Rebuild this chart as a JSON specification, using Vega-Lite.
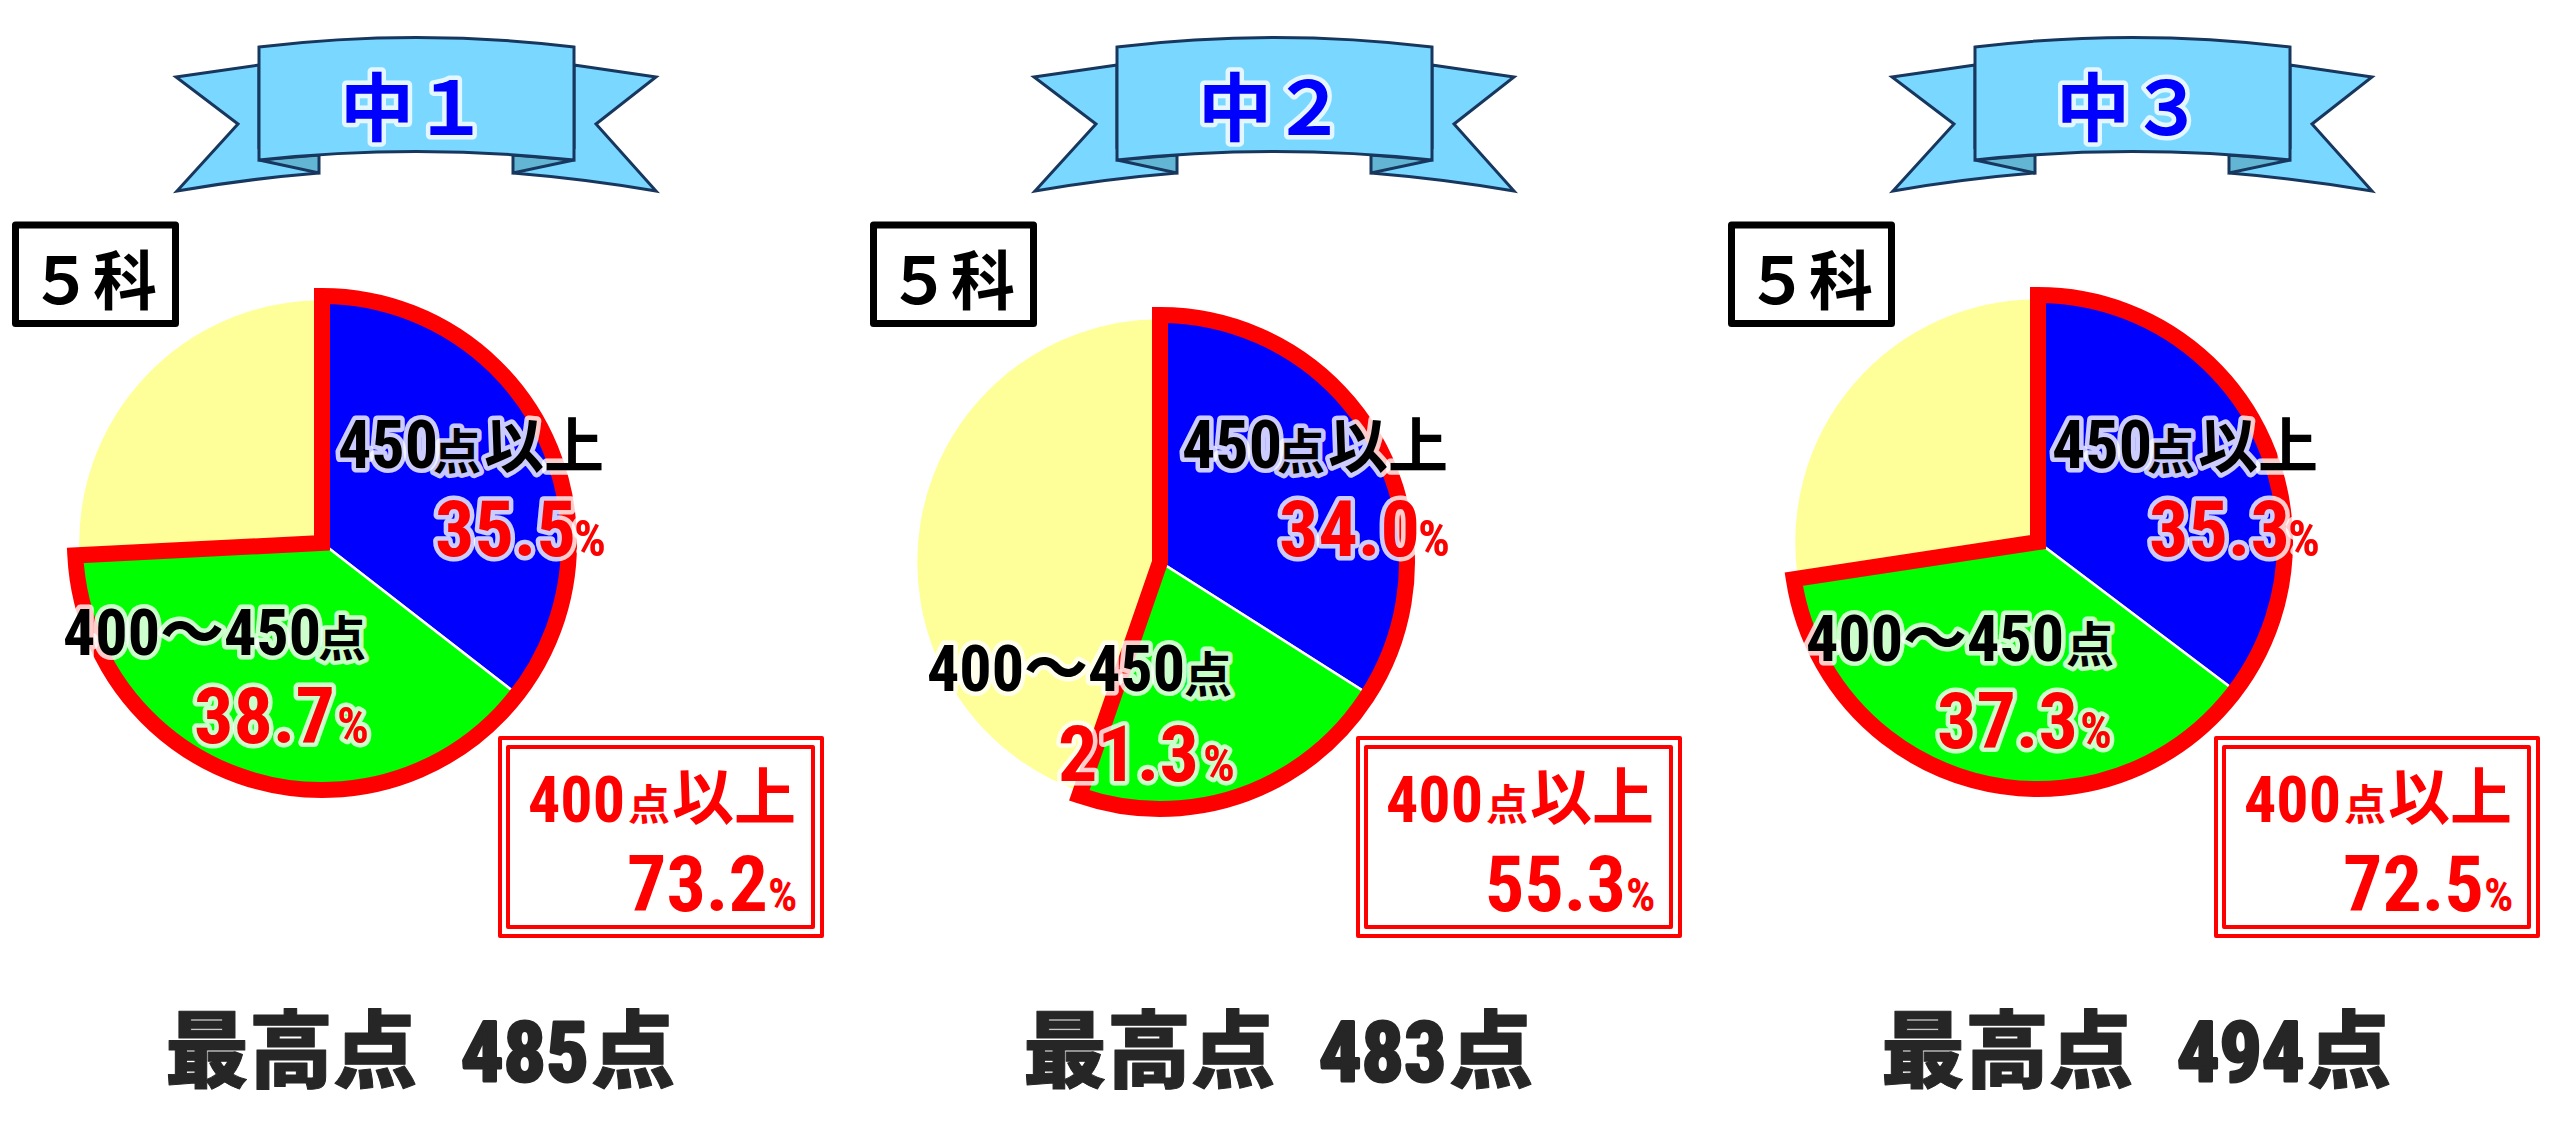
{
  "$schema": "https://vega.github.io/schema/vega-lite/v6.json",
  "width": 2560,
  "height": 1133,
  "autosize": {"type": "none"},
  "padding": 0,
  "background": "white",
  "config": {"view": {"stroke": null}},
  "params": [
    {"name": "grades", "value": ["中1", "中2", "中3"]},
    {"name": "pieX", "value": [-94, -114, -94]},
    {"name": "pieY", "value": [-60, -41, -61]},
    {"name": "textX", "value": {
      "title": [-76, -76, -76], "subject": [-387, -387, -387],
      "num450": [-78, -92, -80], "ten450": [17, 3, 15], "ijo450": [68, 54, 66],
      "pct450": [19, 5, 17], "sign450": [158, 144, 156],
      "num400": [-353, -347, -326], "ten400": [-98, -90, -66],
      "pct400": [-222, -216, -195], "sign400": [-79, -71, -52],
      "boxnum": [112, 112, 112], "boxten": [212, 212, 212], "boxijo": [256, 256, 256],
      "boxpct": [211, 211, 211], "boxsign": [352, 352, 352],
      "scoretitle": [-251, -251, -251], "scorenum": [45, 45, 45], "scoreten": [175, 175, 175]
    }},
    {"name": "textY", "value": {
      "title": [17, 17, 17], "subject": [-299, -299, -299],
      "num450": [-135, -135, -135], "ten450": [-134, -134, -134], "ijo450": [-135, -135, -135],
      "pct450": [-47, -47, -47], "sign450": [-47, -47, -47],
      "num400": [52, 88, 58], "ten400": [53, 89, 59],
      "pct400": [140, 178, 145], "sign400": [140, 178, 145],
      "boxnum": [219, 219, 219], "boxten": [217, 217, 217], "boxijo": [217, 217, 217],
      "boxpct": [308, 308, 308], "boxsign": [308, 308, 308],
      "scoretitle": [-7, -7, -7], "scorenum": [-7, -7, -7], "scoreten": [-7, -7, -7]
    }}
  ],
  "datasets": {
    "shares": [
      {"grade": "中1", "section": "pie", "band": "450点以上", "rank": 1, "share": 35.5},
      {"grade": "中1", "section": "pie", "band": "400〜450点", "rank": 2, "share": 38.7},
      {"grade": "中1", "section": "pie", "band": "400点未満", "rank": 3, "share": 25.8},
      {"grade": "中2", "section": "pie", "band": "450点以上", "rank": 1, "share": 34.0},
      {"grade": "中2", "section": "pie", "band": "400〜450点", "rank": 2, "share": 21.3},
      {"grade": "中2", "section": "pie", "band": "400点未満", "rank": 3, "share": 44.7},
      {"grade": "中3", "section": "pie", "band": "450点以上", "rank": 1, "share": 35.3},
      {"grade": "中3", "section": "pie", "band": "400〜450点", "rank": 2, "share": 37.3},
      {"grade": "中3", "section": "pie", "band": "400点未満", "rank": 3, "share": 27.4}
    ],
    "frames": [
      {"grade": "中1", "section": "title", "frame": "ribbon"},
      {"grade": "中2", "section": "title", "frame": "ribbon"},
      {"grade": "中3", "section": "title", "frame": "ribbon"},
      {"grade": "中1", "section": "pie", "frame": "box"},
      {"grade": "中2", "section": "pie", "frame": "box"},
      {"grade": "中3", "section": "pie", "frame": "box"}
    ],
    "labels": [
      {"grade": "中1", "section": "title", "part": "title", "text": "中１"},
      {"grade": "中1", "section": "pie", "part": "subject", "text": "５科"},
      {"grade": "中1", "section": "pie", "part": "num450", "text": "450"},
      {"grade": "中1", "section": "pie", "part": "ten450", "text": "点"},
      {"grade": "中1", "section": "pie", "part": "ijo450", "text": "以上"},
      {"grade": "中1", "section": "pie", "part": "pct450", "text": "35.5"},
      {"grade": "中1", "section": "pie", "part": "sign450", "text": "%"},
      {"grade": "中1", "section": "pie", "part": "num400", "text": "400〜450"},
      {"grade": "中1", "section": "pie", "part": "ten400", "text": "点"},
      {"grade": "中1", "section": "pie", "part": "pct400", "text": "38.7"},
      {"grade": "中1", "section": "pie", "part": "sign400", "text": "%"},
      {"grade": "中1", "section": "pie", "part": "boxnum", "text": "400"},
      {"grade": "中1", "section": "pie", "part": "boxten", "text": "点"},
      {"grade": "中1", "section": "pie", "part": "boxijo", "text": "以上"},
      {"grade": "中1", "section": "pie", "part": "boxpct", "text": "73.2"},
      {"grade": "中1", "section": "pie", "part": "boxsign", "text": "%"},
      {"grade": "中1", "section": "score", "part": "scoretitle", "text": "最高点"},
      {"grade": "中1", "section": "score", "part": "scorenum", "text": "485"},
      {"grade": "中1", "section": "score", "part": "scoreten", "text": "点"},
      {"grade": "中2", "section": "title", "part": "title", "text": "中２"},
      {"grade": "中2", "section": "pie", "part": "subject", "text": "５科"},
      {"grade": "中2", "section": "pie", "part": "num450", "text": "450"},
      {"grade": "中2", "section": "pie", "part": "ten450", "text": "点"},
      {"grade": "中2", "section": "pie", "part": "ijo450", "text": "以上"},
      {"grade": "中2", "section": "pie", "part": "pct450", "text": "34.0"},
      {"grade": "中2", "section": "pie", "part": "sign450", "text": "%"},
      {"grade": "中2", "section": "pie", "part": "num400", "text": "400〜450"},
      {"grade": "中2", "section": "pie", "part": "ten400", "text": "点"},
      {"grade": "中2", "section": "pie", "part": "pct400", "text": "21.3"},
      {"grade": "中2", "section": "pie", "part": "sign400", "text": "%"},
      {"grade": "中2", "section": "pie", "part": "boxnum", "text": "400"},
      {"grade": "中2", "section": "pie", "part": "boxten", "text": "点"},
      {"grade": "中2", "section": "pie", "part": "boxijo", "text": "以上"},
      {"grade": "中2", "section": "pie", "part": "boxpct", "text": "55.3"},
      {"grade": "中2", "section": "pie", "part": "boxsign", "text": "%"},
      {"grade": "中2", "section": "score", "part": "scoretitle", "text": "最高点"},
      {"grade": "中2", "section": "score", "part": "scorenum", "text": "483"},
      {"grade": "中2", "section": "score", "part": "scoreten", "text": "点"},
      {"grade": "中3", "section": "title", "part": "title", "text": "中３"},
      {"grade": "中3", "section": "pie", "part": "subject", "text": "５科"},
      {"grade": "中3", "section": "pie", "part": "num450", "text": "450"},
      {"grade": "中3", "section": "pie", "part": "ten450", "text": "点"},
      {"grade": "中3", "section": "pie", "part": "ijo450", "text": "以上"},
      {"grade": "中3", "section": "pie", "part": "pct450", "text": "35.3"},
      {"grade": "中3", "section": "pie", "part": "sign450", "text": "%"},
      {"grade": "中3", "section": "pie", "part": "num400", "text": "400〜450"},
      {"grade": "中3", "section": "pie", "part": "ten400", "text": "点"},
      {"grade": "中3", "section": "pie", "part": "pct400", "text": "37.3"},
      {"grade": "中3", "section": "pie", "part": "sign400", "text": "%"},
      {"grade": "中3", "section": "pie", "part": "boxnum", "text": "400"},
      {"grade": "中3", "section": "pie", "part": "boxten", "text": "点"},
      {"grade": "中3", "section": "pie", "part": "boxijo", "text": "以上"},
      {"grade": "中3", "section": "pie", "part": "boxpct", "text": "72.5"},
      {"grade": "中3", "section": "pie", "part": "boxsign", "text": "%"},
      {"grade": "中3", "section": "score", "part": "scoretitle", "text": "最高点"},
      {"grade": "中3", "section": "score", "part": "scorenum", "text": "494"},
      {"grade": "中3", "section": "score", "part": "scoreten", "text": "点"}
    ]
  },
  "encoding": {
    "x": {"field": "grade", "type": "nominal", "axis": null,
      "scale": {"type": "point", "domain": ["中1", "中2", "中3"], "range": [416, 2132], "padding": 0}},
    "y": {"field": "section", "type": "nominal", "axis": null,
      "scale": {"type": "point", "domain": ["title", "pie", "score"], "range": [118, 1088], "padding": 0}}
  },
  "layer": [
    {
      "data": {"name": "frames"},
      "transform": [{"filter": "datum.frame == 'ribbon'"}],
      "mark": {"type": "point", "size": 4, "opacity": 1, "filled": true, "fill": "#7ad7ff", "stroke": "#17375e", "strokeWidth": 3,
        "shape": "M-157,-53L-240,-41L-178,6L-239,73Q-170,61 -97,55L-157,30ZM158,-53L240,-41L180,6L240,73Q170,61 97,55L158,30Z"}
    },
    {
      "data": {"name": "frames"},
      "transform": [{"filter": "datum.frame == 'ribbon'"}],
      "mark": {"type": "point", "size": 4, "opacity": 1, "filled": true, "fill": "#62b6d3", "stroke": "#17375e", "strokeWidth": 3,
        "shape": "M-157,42L-97,37L-97,55ZM158,42L97,37L97,55Z"}
    },
    {
      "data": {"name": "frames"},
      "transform": [{"filter": "datum.frame == 'ribbon'"}],
      "mark": {"type": "point", "size": 4, "opacity": 1, "filled": true, "fill": "#7ad7ff", "stroke": "#17375e", "strokeWidth": 3,
        "shape": "M-157,-71Q0,-90 158,-71L158,42Q0,25 -157,42Z"}
    },
    {
      "data": {"name": "frames"},
      "transform": [{"filter": "datum.frame == 'box'"}],
      "mark": {"type": "point", "size": 4, "opacity": 1, "filled": false, "stroke": "black", "strokeWidth": 7, "strokeJoin": "round",
        "shape": "M-400.5,-378H-240.5V-279.5H-400.5Z"}
    },
    {
      "data": {"name": "frames"},
      "transform": [{"filter": "datum.frame == 'box'"}],
      "mark": {"type": "point", "size": 4, "opacity": 1, "filled": false, "stroke": "#ff0000", "strokeWidth": 4, "strokeJoin": "round",
        "shape": "M84,135H406V333H84ZM92,144H397V324H92Z"}
    },
    {
      "data": {"name": "shares"},
      "transform": [
        {"stack": "share", "groupby": ["grade"], "sort": [{"field": "rank"}], "as": ["start", "end"]}
      ],
      "mark": {"type": "arc", "radius": 244, "stroke": "white", "strokeWidth": 2.5,
        "xOffset": {"expr": "pieX[indexof(grades, datum.grade)]"},
        "yOffset": {"expr": "pieY[indexof(grades, datum.grade)]"}},
      "encoding": {
        "theta": {"field": "start", "type": "quantitative", "stack": null, "scale": {"domain": [0, 100]}},
        "theta2": {"field": "end"},
        "fill": {"field": "band", "type": "nominal", "legend": null,
          "scale": {"domain": ["450点以上", "400〜450点", "400点未満"], "range": ["#0000ff", "#00ff00", "#ffff99"]}}
      }
    },
    {
      "data": {"name": "shares"},
      "transform": [
        {"stack": "share", "groupby": ["grade"], "sort": [{"field": "rank"}], "as": ["start", "end"]},
        {"filter": "datum.rank < 3"},
        {"aggregate": [{"op": "min", "field": "start", "as": "start"}, {"op": "max", "field": "end", "as": "end"}], "groupby": ["grade", "section"]}
      ],
      "mark": {"type": "arc", "radius": 247, "fillOpacity": 0, "stroke": "#ff0000", "strokeWidth": 16, "strokeJoin": "miter", "strokeMiterLimit": 10,
        "xOffset": {"expr": "pieX[indexof(grades, datum.grade)]"},
        "yOffset": {"expr": "pieY[indexof(grades, datum.grade)]"}},
      "encoding": {
        "theta": {"field": "start", "type": "quantitative", "stack": null, "scale": {"domain": [0, 100]}},
        "theta2": {"field": "end"}
      }
    },
    {
      "data": {"name": "labels"},
      "transform": [{"filter": "test(/^(pct|sign|num)/, datum.part)"}],
      "mark": {"type": "text", "align": "left", "baseline": "alphabetic", "font": "Roboto Condensed, Liberation Sans, Noto Sans CJK JP", "fontWeight": "bold",
        "stroke": "white", "strokeWidth": 9, "strokeOpacity": 0.8, "strokeJoin": "round",
        "dx": {"expr": "textX[datum.part][indexof(grades, datum.grade)]"},
        "dy": {"expr": "textY[datum.part][indexof(grades, datum.grade)]"}},
      "encoding": {
        "text": {"field": "text"},
        "size": {"field": "part", "type": "nominal", "legend": null, "scale": {"type": "ordinal",
          "domain": ["title", "subject", "num450", "ten450", "ijo450", "pct450", "sign450", "num400", "ten400", "pct400", "sign400", "boxnum", "boxten", "boxijo", "boxpct", "boxsign", "scoretitle", "scorenum", "scoreten"],
          "range": [74, 64, 66, 48, 60, 78, 50, 64, 48, 78, 50, 64, 42, 62, 78, 46, 84, 84, 84]}}
      }
    },
    {
      "data": {"name": "labels"},
      "transform": [{"filter": "test(/^(title|ten450|ijo450|ten400)/, datum.part)"}],
      "mark": {"type": "text", "align": "left", "baseline": "alphabetic", "font": "Noto Sans CJK JP", "fontWeight": "bold",
        "stroke": "white", "strokeWidth": 9, "strokeOpacity": 0.8, "strokeJoin": "round",
        "dx": {"expr": "textX[datum.part][indexof(grades, datum.grade)]"},
        "dy": {"expr": "textY[datum.part][indexof(grades, datum.grade)]"}},
      "encoding": {
        "text": {"field": "text"},
        "size": {"field": "part", "type": "nominal", "legend": null, "scale": {"type": "ordinal"}}
      }
    },
    {
      "data": {"name": "labels"},
      "transform": [{"filter": "test(/^(pct|sign|num|boxnum|boxpct|boxsign)/, datum.part)"}],
      "mark": {"type": "text", "align": "left", "baseline": "alphabetic", "font": "Roboto Condensed, Liberation Sans, Noto Sans CJK JP", "fontWeight": "bold",
        "dx": {"expr": "textX[datum.part][indexof(grades, datum.grade)]"},
        "dy": {"expr": "textY[datum.part][indexof(grades, datum.grade)]"}},
      "encoding": {
        "text": {"field": "text"},
        "size": {"field": "part", "type": "nominal", "legend": null, "scale": {"type": "ordinal"}},
        "color": {"field": "part", "type": "nominal", "legend": null, "scale": {
          "domain": ["title", "subject", "num450", "ten450", "ijo450", "pct450", "sign450", "num400", "ten400", "pct400", "sign400", "boxnum", "boxten", "boxijo", "boxpct", "boxsign", "scoretitle", "scorenum", "scoreten"],
          "range": ["#0000ff", "#000000", "#000000", "#000000", "#000000", "#ff0000", "#ff0000", "#000000", "#000000", "#ff0000", "#ff0000", "#ff0000", "#ff0000", "#ff0000", "#ff0000", "#ff0000", "#262626", "#262626", "#262626"]}}
      }
    },
    {
      "data": {"name": "labels"},
      "transform": [{"filter": "test(/^(title|subject|ten450|ijo450|ten400|boxten|boxijo)/, datum.part)"}],
      "mark": {"type": "text", "align": "left", "baseline": "alphabetic", "font": "Noto Sans CJK JP", "fontWeight": "bold",
        "dx": {"expr": "textX[datum.part][indexof(grades, datum.grade)]"},
        "dy": {"expr": "textY[datum.part][indexof(grades, datum.grade)]"}},
      "encoding": {
        "text": {"field": "text"},
        "size": {"field": "part", "type": "nominal", "legend": null, "scale": {"type": "ordinal"}},
        "color": {"field": "part", "type": "nominal", "legend": null}
      }
    },
    {
      "data": {"name": "labels"},
      "transform": [{"filter": "datum.part == 'scorenum'"}],
      "mark": {"type": "text", "align": "left", "baseline": "alphabetic", "font": "Roboto Condensed, Liberation Sans, Noto Sans CJK JP", "fontWeight": "bold",
        "stroke": "#262626", "strokeWidth": 3, "strokeJoin": "round",
        "dx": {"expr": "textX[datum.part][indexof(grades, datum.grade)]"},
        "dy": {"expr": "textY[datum.part][indexof(grades, datum.grade)]"}},
      "encoding": {
        "text": {"field": "text"},
        "size": {"field": "part", "type": "nominal", "legend": null, "scale": {"type": "ordinal"}},
        "color": {"field": "part", "type": "nominal", "legend": null}
      }
    },
    {
      "data": {"name": "labels"},
      "transform": [{"filter": "test(/^(scoretitle|scoreten)/, datum.part)"}],
      "mark": {"type": "text", "align": "left", "baseline": "alphabetic", "font": "Noto Sans CJK JP", "fontWeight": 900,
        "stroke": "#262626", "strokeWidth": 1, "strokeJoin": "round",
        "dx": {"expr": "textX[datum.part][indexof(grades, datum.grade)]"},
        "dy": {"expr": "textY[datum.part][indexof(grades, datum.grade)]"}},
      "encoding": {
        "text": {"field": "text"},
        "size": {"field": "part", "type": "nominal", "legend": null, "scale": {"type": "ordinal"}},
        "color": {"field": "part", "type": "nominal", "legend": null}
      }
    }
  ]
}
